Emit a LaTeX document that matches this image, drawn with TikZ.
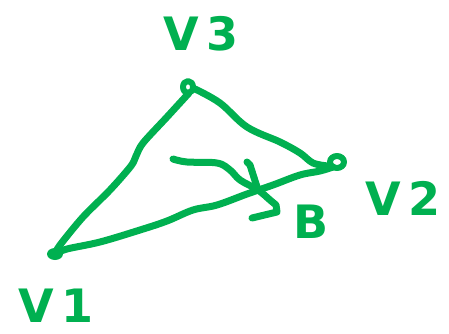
\documentclass[tikz,border=0pt]{standalone}
\usepackage{fontspec}
\setmainfont{DejaVu Sans}
\definecolor{inkgreen}{RGB}{0,176,80}
\begin{document}
\begin{tikzpicture}[x=1pt,y=-1pt,
  ink/.style={draw=inkgreen,line width=7pt,line cap=round,line join=round},
  lbl/.style={text=inkgreen,font=\bfseries\fontsize{46}{46}\selectfont,inner sep=0pt}]
\useasboundingbox (0,0) rectangle (449,334);
\coordinate (v1) at (55,254);
\coordinate (v2) at (333,167);
\coordinate (v3) at (189,93);
\coordinate (tail) at (173,159);
\coordinate (cross) at (258,190);
% vertex marks
\fill[inkgreen] (v1) ellipse (8pt and 6pt);
\draw[ink,line width=6pt] (337,162) ellipse (7pt and 6pt);
\draw[ink,line width=6pt] (188,87) ellipse (5pt and 6pt);
% edges
\draw[ink] plot[smooth,tension=0.5] coordinates {(v3) (167,117) (143,143) (136,156) (131,166) (110,190) (83,217) (60,245) (v1)};
\draw[ink] plot[smooth,tension=0.6] coordinates {(v1) (67,249) (100,242) (140,230) (167,221) (193,210) (217,205) (247,194) (273,185) (300,175) (320,171) (v2)};
\draw[ink] plot[smooth,tension=0.6] coordinates {(195,89) (220,103) (247,127) (280,142) (300,153) (313,163) (328,166)};
% inner stroke
\draw[ink] plot[smooth,tension=0.6] coordinates {(tail) (187,162) (217,163) (230,170) (240,180) (cross) (270,200) (276,205)} -- (277,212) -- (252,218);
\draw[ink] (247,162) -- (250,165) -- (cross);
% labels
\node[lbl] (l3) at (201,34) {V\,3};
\node[lbl] (l2) at (403,198) {V\,2};
\node[lbl] (l1) at (56,306) {V\,1};
\node[lbl] (lb) at (311,222) {B};
\end{tikzpicture}
\end{document}
